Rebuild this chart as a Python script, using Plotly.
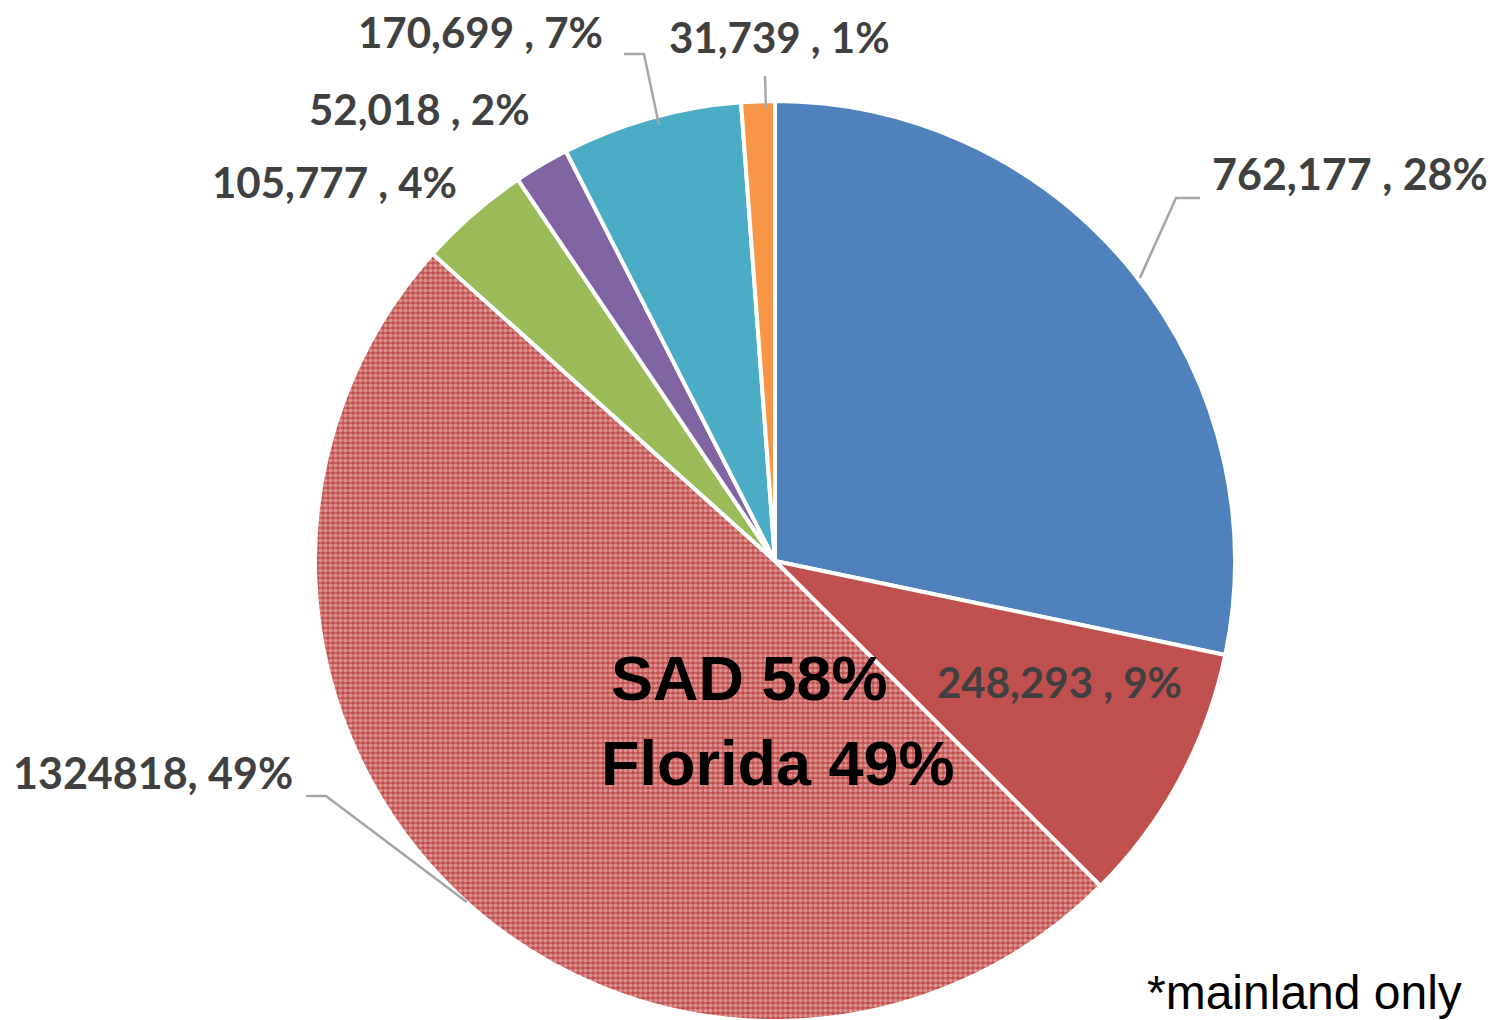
import math
import plotly.graph_objects as go

# ---- data ----
values = [762177, 248293, 1324818, 105777, 52018, 170699, 31739]
label_texts = ["762,177 , 28%", "248,293 , 9%", "1324818, 49%", "105,777 , 4%",
               "52,018 , 2%", "170,699 , 7%", "31,739 , 1%"]
colors = ["#4F81BD", "#C0504D", "#C0504D", "#9BBB59", "#8064A2", "#4BACC6", "#F79646"]
patterns = ["", "", ".", "", "", "", ""]
center_lines = ["SAD 58%", "Florida 49%"]
note_text = "*mainland only"

W, H = 1495, 1020
CX, CY, R = 775, 560, 460
DX, DY = -8, -7  # domain correction

def px(x):
    return x / W

def py(y):
    return 1 - y / H

fig = go.Figure(go.Pie(
    values=values,
    sort=False,
    direction="clockwise",
    rotation=0,
    textinfo="none",
    hoverinfo="skip",
    marker=dict(colors=colors, line=dict(color="white", width=4),
                pattern=dict(shape=patterns, fgcolor="#F8D2D1", bgcolor=colors,
                             size=5, solidity=0.55, fillmode="overlay")),
    domain=dict(x=[px(CX - R + DX), px(CX + R + DX)], y=[py(CY + R + DY), py(CY - R + DY)]),
    showlegend=False,
))

total = sum(values)
mids = []
acc = 0
for v in values:
    mids.append((acc + v / 2) / total * 2 * math.pi)
    acc += v

def edge_point(i, r=R):
    a = mids[i]
    return CX + r * math.sin(a), CY - r * math.cos(a)

label_pos = [
    (1202, 166, "left", 43),
    (927, 674, "left", 42),
    (287, 764, "right", 43),
    (451, 174, "right", 42),
    (524, 101, "right", 42),
    (597, 24, "right", 42),
    (659, 29, "left", 42),
]
leaders = {
    0: [(1168, 190), (1192, 190)],
    2: [(318, 788), (298, 788)],
    5: [(636, 46), (616, 46)],
    6: [(757, 68)],
}

annotations = []
for i, (x, y, xa, fs) in enumerate(label_pos):
    annotations.append(dict(
        x=px(x), y=py(y), xref="paper", yref="paper", xanchor=xa, yanchor="middle",
        text=label_texts[i], showarrow=False,
        font=dict(family="Lato", size=fs, color="#404040", weight="bold"),
    ))

shapes = []
for i, pts in leaders.items():
    sx, sy = edge_point(i)
    path_pts = [(sx, sy)] + pts
    d = "M " + " L ".join(f"{px(a)},{py(b)}" for a, b in path_pts)
    shapes.append(dict(type="path", path=d, xref="paper", yref="paper",
                       line=dict(color="#A6A6A6", width=2.5)))

for txt, x, y in [(center_lines[0], 601, 670), (center_lines[1], 591, 755)]:
    annotations.append(dict(
        x=px(x), y=py(y), xref="paper", yref="paper", xanchor="left", yanchor="middle",
        text=txt, showarrow=False,
        font=dict(family="Liberation Sans", size=63, color="black", weight="bold"),
    ))
annotations.append(dict(
    x=px(1456), y=py(984), xref="paper", yref="paper", xanchor="right", yanchor="middle",
    text=note_text, showarrow=False,
    font=dict(family="Liberation Sans", size=48, color="black"),
))

fig.update_layout(
    width=W, height=H,
    margin=dict(l=0, r=0, t=0, b=0),
    paper_bgcolor="white", plot_bgcolor="white",
    annotations=annotations, shapes=shapes,
)

fig.write_html("out.html")
